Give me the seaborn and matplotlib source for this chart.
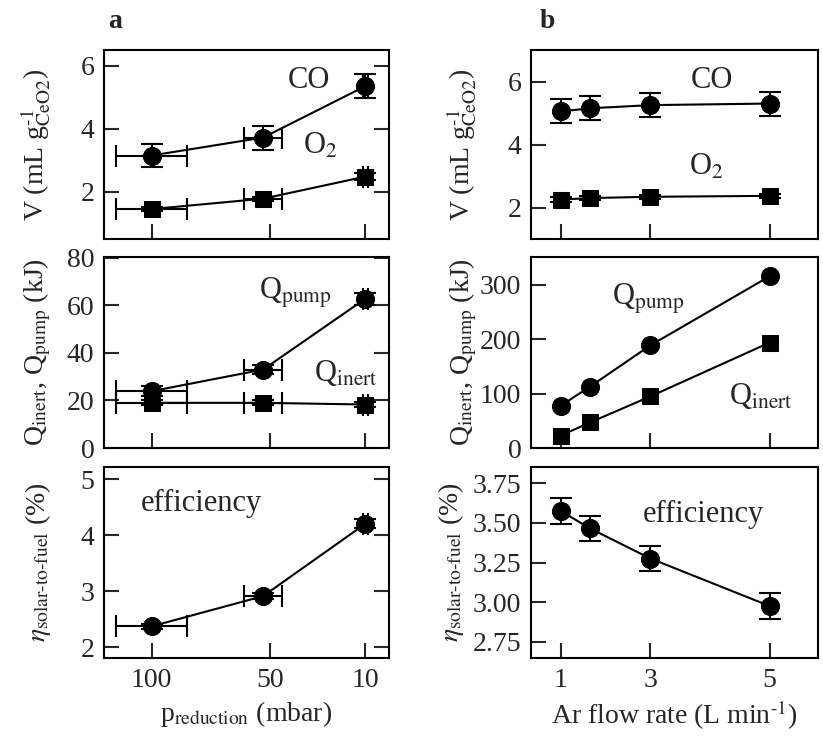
import numpy as np
import pandas as pd
import matplotlib
matplotlib.use("Agg")
import matplotlib.pyplot as plt
import seaborn as sns

# (a) reduction pressure series
p_red = [100, 53, 10]
p_err = [15, 8, 1]
co_a = [3.15, 3.72, 5.35]
co_a_err = [0.38, 0.38, 0.38]
o2_a = [1.45, 1.78, 2.48]
o2_a_err = [0.06, 0.06, 0.12]
qpump_a = [23.9, 33.0, 62.8]
qpump_a_err = [2.0, 2.0, 2.5]
qinert_a = [19.0, 19.0, 18.3]
qinert_a_err = [1.0, 1.0, 1.0]
eff_a = [2.37, 2.91, 4.2]
eff_a_err = [0.05, 0.05, 0.08]

# (b) Ar flow rate series
flow = [1, 1.75, 3, 5]
co_b = [5.05, 5.15, 5.25, 5.3]
co_b_err = [0.38, 0.38, 0.38, 0.38]
o2_b = [2.25, 2.3, 2.34, 2.37]
o2_b_err = [0.07, 0.07, 0.07, 0.07]
qpump_b = [78, 113, 189, 316]
qinert_b = [23, 47, 95, 194]
eff_b = [3.575, 3.465, 3.275, 2.975]
eff_b_err = [0.08, 0.08, 0.08, 0.08]

df_a = pd.DataFrame({"p": p_red, "co": co_a, "o2": o2_a, "qpump": qpump_a,
                     "qinert": qinert_a, "eff": eff_a})
df_b = pd.DataFrame({"f": flow, "co": co_b, "o2": o2_b, "qpump": qpump_b,
                     "qinert": qinert_b, "eff": eff_b})

sns.set_theme(style="ticks")
plt.rcParams["font.family"] = ["Liberation Serif", "DejaVu Serif"]
plt.rcParams["mathtext.fontset"] = "stix"
plt.rcParams["axes.linewidth"] = 1.5

fig = plt.figure(figsize=(8.23, 7.44), dpi=100)
fig.patch.set_facecolor("white")

lx, lw = 104 / 823, 285 / 823
rx, rw = 531 / 823, 287 / 823
rows = [((744 - 239) / 744, 189 / 744),
        ((744 - 448) / 744, 191.3 / 744),
        ((744 - 658.3) / 744, 191.6 / 744)]

axes = {}
for r, (y0, h) in enumerate(rows):
    axes[(r, 0)] = fig.add_axes([lx, y0, lw, h])
    axes[(r, 1)] = fig.add_axes([rx, y0, rw, h])

FS = 20
line_kw = dict(color="black", linewidth=1.5, markeredgecolor="black")
err_kw = dict(fmt="none", ecolor="black", elinewidth=1.5, capsize=8, capthick=1.5)

v_label = r"V (mL g$^{\text{-1}}_{\mathrm{CeO2}}$)"
q_label = r"Q$_{\mathrm{inert}}$, Q$_{\mathrm{pump}}$ (kJ)"
eta_label = r"$\eta_{\text{solar-to-fuel}}$ (%)"


def series(ax, df, x, y, marker, yerr=None, xerr=None):
    ms = 13 if marker == "o" else 11
    sns.lineplot(data=df, x=x, y=y, marker=marker, markersize=ms, ax=ax,
                 sort=False, **line_kw)
    if yerr is not None or xerr is not None:
        ax.errorbar(df[x], df[y], yerr=yerr, xerr=xerr, **err_kw)


def note(ax, x, y, s):
    ax.text(x, y, s, transform=ax.transAxes, fontsize=22, ha="center", va="center")


# ---- column a ----
ax = axes[(0, 0)]
series(ax, df_a, "p", "co", "o", co_a_err, p_err)
series(ax, df_a, "p", "o2", "s", o2_a_err, p_err)
ax.set_ylim(0.5, 6.5)
ax.set_yticks([2, 4, 6])
note(ax, 0.72, 0.84, "CO")
note(ax, 0.76, 0.49, "O$_2$")
ax.set_ylabel(v_label, fontsize=FS)

ax = axes[(1, 0)]
series(ax, df_a, "p", "qpump", "o", qpump_a_err, p_err)
series(ax, df_a, "p", "qinert", "s", qinert_a_err, p_err)
ax.set_ylim(0, 80.5)
ax.set_yticks([0, 20, 40, 60, 80])
note(ax, 0.67, 0.81, r"Q$_{\mathrm{pump}}$")
note(ax, 0.85, 0.39, r"Q$_{\mathrm{inert}}$")
ax.set_ylabel(q_label, fontsize=FS)

ax = axes[(2, 0)]
series(ax, df_a, "p", "eff", "o", eff_a_err, p_err)
ax.set_ylim(1.8, 5.22)
ax.set_yticks([2, 3, 4, 5])
note(ax, 0.34, 0.81, "efficiency")
ax.set_ylabel(eta_label, fontsize=FS)
ax.set_xlabel(r"p$_{\mathrm{reduction}}$ (mbar)", fontsize=FS)

for r in range(3):
    ax = axes[(r, 0)]
    ax.set_xlim(120, 0)
    ax.set_xticks([100, 50, 10])
    ax.tick_params(direction="in", length=11, width=1.5, labelsize=FS,
                   right=True, top=False, pad=7)
    if r < 2:
        ax.set_xlabel("")
        ax.set_xticklabels([])
    ax.yaxis.set_label_coords(-0.18, 0.5)

# ---- column b ----
fwd = lambda x: np.sign(x) * np.abs(x) ** 1.4
inv = lambda y: np.sign(y) * np.abs(y) ** (1 / 1.4)

ax = axes[(0, 1)]
series(ax, df_b, "f", "co", "o", co_b_err)
series(ax, df_b, "f", "o2", "s", o2_b_err)
ax.set_ylim(1, 7)
ax.set_yticks([2, 4, 6])
note(ax, 0.63, 0.84, "CO")
note(ax, 0.61, 0.38, "O$_2$")
ax.set_ylabel(v_label, fontsize=FS)

ax = axes[(1, 1)]
series(ax, df_b, "f", "qpump", "o")
series(ax, df_b, "f", "qinert", "s")
ax.set_ylim(0, 352)
ax.set_yticks([0, 100, 200, 300])
note(ax, 0.41, 0.78, r"Q$_{\mathrm{pump}}$")
note(ax, 0.80, 0.27, r"Q$_{\mathrm{inert}}$")
ax.set_ylabel(q_label, fontsize=FS)

ax = axes[(2, 1)]
series(ax, df_b, "f", "eff", "o", eff_b_err)
ax.set_ylim(2.645, 3.855)
ax.set_yticks([2.75, 3.0, 3.25, 3.5, 3.75])
ax.set_yticklabels([f"{v:.2f}" for v in [2.75, 3.0, 3.25, 3.5, 3.75]])
note(ax, 0.60, 0.75, "efficiency")
ax.set_ylabel(eta_label, fontsize=FS)
ax.set_xlabel(r"Ar flow rate (L min$^{\text{-1}}$)", fontsize=FS)

for r in range(3):
    ax = axes[(r, 1)]
    ax.set_xscale("function", functions=(fwd, inv))
    ax.set_xlim(-0.34, 5.72)
    ax.set_xticks([1, 3, 5])
    ax.set_xticklabels(["1", "3", "5"])
    ax.minorticks_off()
    ax.tick_params(direction="in", length=11, width=1.5, labelsize=FS,
                   right=False, top=False, pad=7)
    if r < 2:
        ax.set_xlabel("")
        ax.set_xticklabels([])
    ax.yaxis.set_label_coords(-0.18 if r < 2 else -0.225, 0.5)

for ax in axes.values():
    for s in ax.spines.values():
        s.set_visible(True)
        s.set_color("black")

fig.text(115 / 823, 1 - 22 / 744, "a", fontsize=20, fontweight="bold", ha="center", va="center")
fig.text(547 / 823, 1 - 22 / 744, "b", fontsize=20, fontweight="bold", ha="center", va="center")

fig.savefig("out.png", dpi=100, facecolor="white")
